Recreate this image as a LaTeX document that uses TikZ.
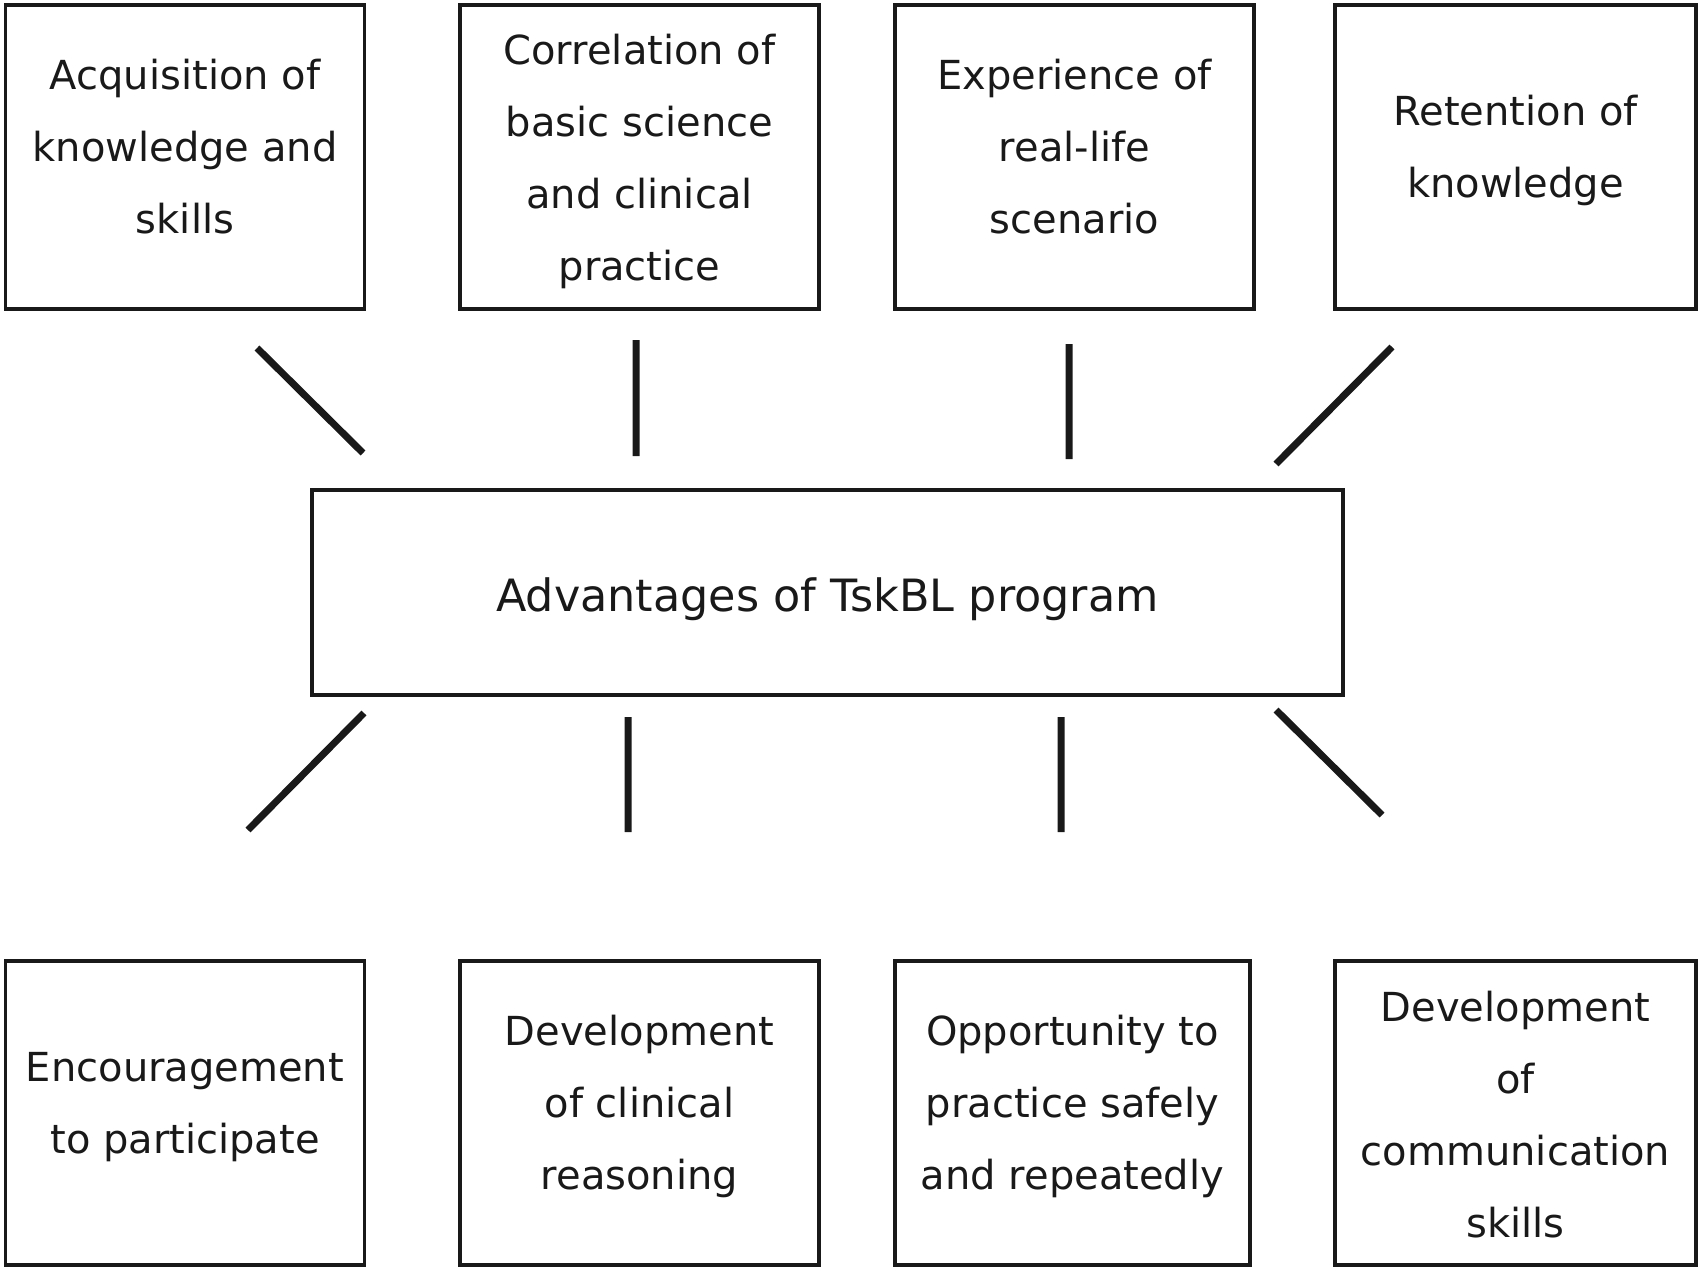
\documentclass[tikz,border=0pt]{standalone}
\usepackage{fontspec}
\setmainfont{DejaVu Sans}
\usetikzlibrary{positioning}

\begin{document}
\begin{tikzpicture}[x=1pt,y=-1pt,node distance=56pt,
  every node/.style={inner sep=0pt,text=black!90},
  box/.style={draw=black!90,line width=3.3pt,minimum width=359pt,minimum height=304pt},
  txt/.style={align=center,font=\fontsize{40}{72}\selectfont},
  spoke/.style={draw=black!90,line width=7pt}]
  \useasboundingbox (0,0) rectangle (1701,1280);
  % centre
  \node[box,minimum width=1031pt,minimum height=205pt,text height=37pt,text depth=0pt,
    font=\fontsize{44.5}{52}\selectfont] (adv) at (827.5,592.5) {Advantages of TskBL program};
  % top row
  \node[box] (acq) at (185,157) {};
  \node[box] (cor) at (639.5,157) {};
  \node[box] (exp) at (1074.5,157) {};
  \node[box,minimum width=361pt] (ret) at (1515.5,157) {};
  \node[txt] (acqt) [below=of acq.north] {Acquisition of\\knowledge and\\skills};
  \node[txt] (cort) [below=31pt of cor.north] {Correlation of\\basic science\\and clinical\\practice};
  \node[txt] (expt) [below=of exp.north] {Experience of\\real-life\\scenario};
  \node[txt] (rett) [below=92pt of ret.north] {Retention of\\knowledge};
  % bottom row
  \node[box] (enc) at (185,1113) {};
  \node[box] (dcr) at (639.5,1113) {};
  \node[box,minimum width=355pt] (opp) at (1072.5,1113) {};
  \node[box,minimum width=361pt] (dcs) at (1515.5,1113) {};
  \node[txt] (enct) [below=93pt of enc.north] {Encouragement\\to participate};
  \node[txt] (dcrt) [below=of dcr.north] {Development\\of clinical\\reasoning};
  \node[txt] (oppt) [below=of opp.north] {Opportunity to\\practice safely\\and repeatedly};
  \node[txt] (dcst) [below=32pt of dcs.north] {Development\\of\\communication\\skills};
  % spokes
  \coordinate (a1) at (257,348);  \coordinate (b1) at (363,453);
  \coordinate (a2) at (636,340);  \coordinate (b2) at (636,456);
  \coordinate (a3) at (1069,344); \coordinate (b3) at (1069,459);
  \coordinate (a4) at (1392,347); \coordinate (b4) at (1276,464);
  \coordinate (a5) at (364,713);  \coordinate (b5) at (248,830);
  \coordinate (a6) at (628,717);  \coordinate (b6) at (628,832);
  \coordinate (a7) at (1061,717); \coordinate (b7) at (1061,832);
  \coordinate (a8) at (1276,710); \coordinate (b8) at (1382,815);
  \path[spoke] (a1) -- (b1) (a2) -- (b2) (a3) -- (b3) (a4) -- (b4)
    (a5) -- (b5) (a6) -- (b6) (a7) -- (b7) (a8) -- (b8);
\end{tikzpicture}
\end{document}
